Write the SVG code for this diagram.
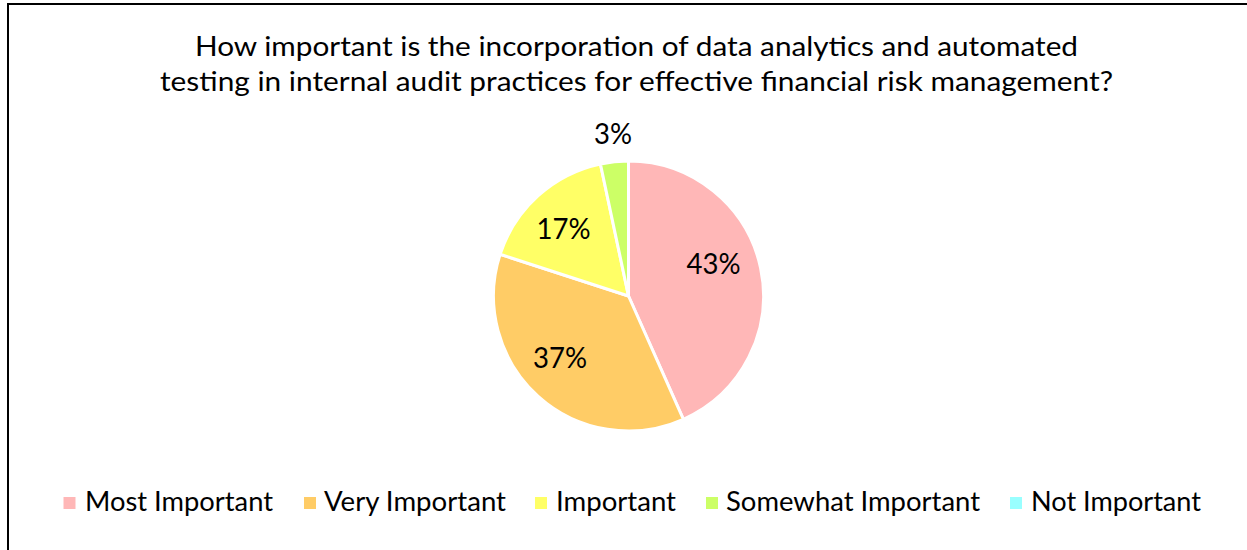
<svg xmlns="http://www.w3.org/2000/svg" width="1247" height="550" viewBox="0 0 1247 550">
<style>
text{font-family:Lato,"Liberation Sans",sans-serif;fill:#000;}
.t{font-size:26px;text-anchor:middle;}
.lab{font-size:28px;text-anchor:middle;}
.leg{font-size:26px;}
.sl{stroke:#fff;stroke-width:3;stroke-linejoin:round;}
</style>
<rect x="0" y="0" width="1247" height="550" fill="#fff"/>
<path d="M1247,4 H8 V550" fill="none" stroke="#000" stroke-width="2"/>
<g id="title">
<text class="t" x="636.5" y="56" textLength="883" lengthAdjust="spacingAndGlyphs">How important is the incorporation of data analytics and automated</text>
<text class="t" x="636.5" y="91" textLength="953" lengthAdjust="spacingAndGlyphs">testing in internal audit practices for effective financial risk management?</text>
</g>
<g id="pie">
<g id="slice-most"><path class="sl" fill="#FFB7B7" d="M628.5,296 L628.5,161 A135,135 0 0,1 683.41,419.33 Z"/></g>
<g id="slice-very"><path class="sl" fill="#FFCC66" d="M628.5,296 L683.41,419.33 A135,135 0 0,1 500.11,254.28 Z"/></g>
<g id="slice-important"><path class="sl" fill="#FFFF66" d="M628.5,296 L500.11,254.28 A135,135 0 0,1 600.43,163.95 Z"/></g>
<g id="slice-somewhat"><path class="sl" fill="#CCFF66" d="M628.5,296 L600.43,163.95 A135,135 0 0,1 628.5,161 Z"/></g>
</g>
<g id="labels">
<text class="lab" x="713.5" y="274" textLength="54" lengthAdjust="spacingAndGlyphs">43%</text>
<text class="lab" x="560" y="368" textLength="54" lengthAdjust="spacingAndGlyphs">37%</text>
<text class="lab" x="563.5" y="239" textLength="54" lengthAdjust="spacingAndGlyphs">17%</text>
<text class="lab" x="613" y="144" textLength="38" lengthAdjust="spacingAndGlyphs">3%</text>
</g>
<g id="legend">
<g id="leg-most"><rect x="63.5" y="497" width="12" height="12" fill="#FFB7B7"/><text class="leg" x="85" y="511" textLength="188" lengthAdjust="spacingAndGlyphs">Most Important</text></g>
<g id="leg-very"><rect x="304" y="497" width="12" height="12" fill="#FFCC66"/><text class="leg" x="324" y="511" textLength="182" lengthAdjust="spacingAndGlyphs">Very Important</text></g>
<g id="leg-important"><rect x="535" y="497" width="12" height="12" fill="#FFFF66"/><text class="leg" x="556" y="511" textLength="120" lengthAdjust="spacingAndGlyphs">Important</text></g>
<g id="leg-somewhat"><rect x="706" y="497" width="12" height="12" fill="#CCFF66"/><text class="leg" x="726" y="511" textLength="254" lengthAdjust="spacingAndGlyphs">Somewhat Important</text></g>
<g id="leg-not"><rect x="1010" y="497" width="12" height="12" fill="#99FFFF"/><text class="leg" x="1031" y="511" textLength="170" lengthAdjust="spacingAndGlyphs">Not Important</text></g>
</g>
</svg>
